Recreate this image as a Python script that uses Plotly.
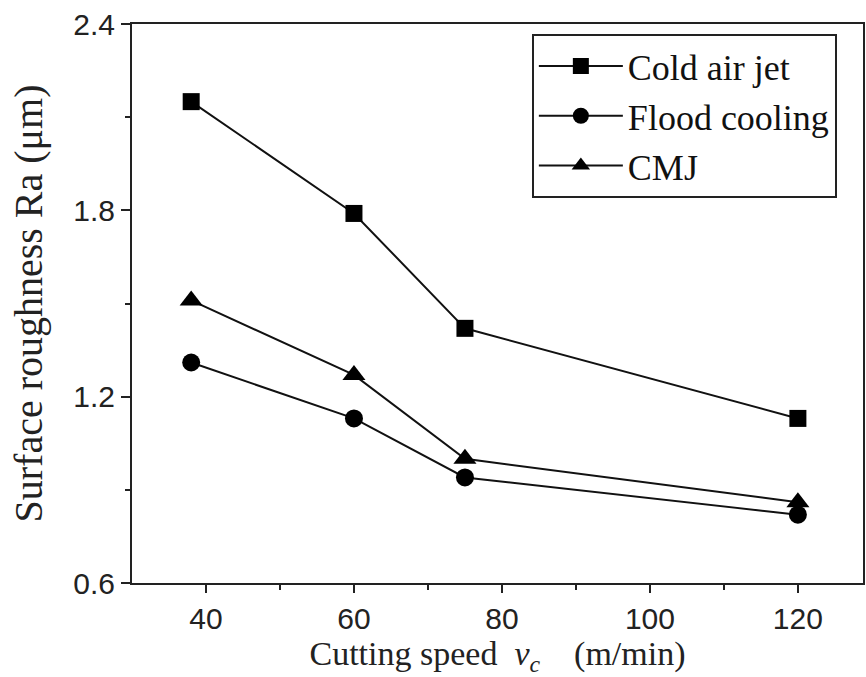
import plotly.graph_objects as go

speeds = [38, 60, 75, 120]
cold_air_jet = [2.15, 1.79, 1.42, 1.13]
flood_cooling = [1.31, 1.13, 0.94, 0.82]
cmj = [1.51, 1.27, 1.00, 0.86]

series = [
    ("Cold air jet", cold_air_jet, "square", 17),
    ("Flood cooling", flood_cooling, "circle", 18),
    ("CMJ", cmj, "triangle-up", 20),
]

fig = go.Figure()
for name, vals, sym, size in series:
    fig.add_trace(go.Scatter(
        x=speeds, y=vals, name=name, mode="lines+markers",
        line=dict(color="#111111", width=2),
        marker=dict(symbol=sym, size=size, color="#000000"),
    ))

serif = "Liberation Serif, Times New Roman, serif"
sans = "Liberation Sans, Arial, sans-serif"
ink = "#222222"

fig.update_layout(
    width=866, height=677,
    margin=dict(l=132, r=1, t=24, b=94),
    plot_bgcolor="white", paper_bgcolor="white",
    showlegend=True,
    legend=dict(
        x=0.547, y=0.982, xanchor="left", yanchor="top",
        bordercolor=ink, borderwidth=2,
        font=dict(family=serif, size=36, color="#111111"),
        bgcolor="white", tracegroupgap=0, itemwidth=84,
        entrywidth=230, entrywidthmode="pixels",
    ),
    xaxis=dict(
        range=[30, 128.8], tickvals=[40, 60, 80, 100, 120],
        ticks="outside", ticklen=8, tickwidth=2, tickcolor=ink,
        showline=True, linecolor=ink, linewidth=2, mirror=True,
        showgrid=False, zeroline=False,
        minor=dict(tickvals=[50, 70, 90, 110], ticks="outside", ticklen=5, tickwidth=2, tickcolor=ink),
        tickfont=dict(family=sans, size=30, color=ink),
        title=dict(text="Cutting speed&nbsp;&nbsp;<i>v</i><sub><i>c</i></sub>&nbsp;&nbsp;&nbsp;&nbsp;(m/min)",
                   font=dict(family=serif, size=34, color=ink), standoff=4),
    ),
    yaxis=dict(
        range=[0.6, 2.4], tickvals=[0.6, 1.2, 1.8, 2.4], ticktext=["0.6", "1.2", "1.8", "2.4"],
        ticks="outside", ticklen=9, tickwidth=2, tickcolor=ink,
        showline=True, linecolor=ink, linewidth=2, mirror=True,
        showgrid=False, zeroline=False,
        minor=dict(tickvals=[0.9, 1.5, 2.1], ticks="outside", ticklen=5, tickwidth=2, tickcolor=ink),
        tickfont=dict(family=sans, size=30, color=ink),
        title=dict(text="Surface roughness Ra (μm)",
                   font=dict(family=serif, size=40, color=ink), standoff=18),
    ),
)

fig.write_html("out.html", config={"displayModeBar": False},
               post_script="document.body.style.margin='0';")
